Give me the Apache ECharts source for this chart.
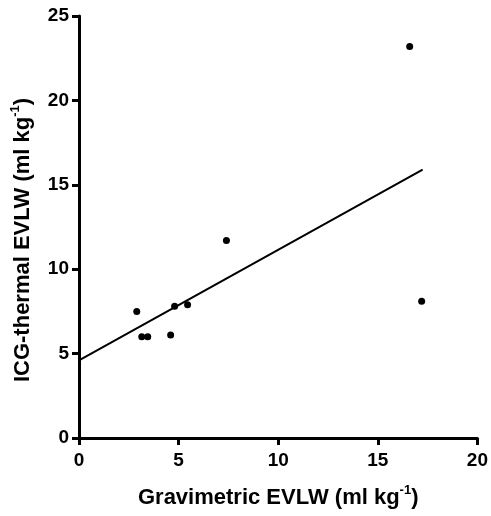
<!DOCTYPE html>
<html>
<head>
<meta charset="utf-8">
<script src="https://cdn.jsdelivr.net/npm/echarts@6/dist/echarts.min.js"></script>
<style>html,body{margin:0;padding:0;background:#fff}#c{width:491px;height:516px}</style>
</head>
<body>
<div id="c"></div>
<script>
const gravX = [2.9, 3.15, 3.45, 4.6, 4.8, 5.45, 7.4, 16.6, 17.2];
const icgY = [7.5, 6.0, 6.0, 6.1, 7.8, 7.9, 11.7, 23.2, 8.1];
const fitX = [0, 17.25];
const fitY = [4.6, 15.9];
const xTicks = [0, 5, 10, 15, 20];
const yTicks = [0, 5, 10, 15, 20, 25];

const font = '"Liberation Sans", Arial, sans-serif';
const chart = echarts.init(document.getElementById('c'));
const rich = {
  n: {color: '#000', fontWeight: 'bold', fontSize: 22, fontFamily: font},
  sup: {color: '#000', fontWeight: 'bold', fontSize: 13, fontFamily: font, padding: [0, 0, 15, 0]}
};
const axisCommon = {
  axisLine: {lineStyle: {color: '#000', width: 3}},
  axisTick: {inside: false, length: 7, lineStyle: {color: '#000', width: 3}},
  axisLabel: {color: '#000', fontWeight: 'bold', fontSize: 19, fontFamily: font},
  splitLine: {show: false},
  nameLocation: 'middle'
};
chart.setOption({
  animation: false,
  backgroundColor: '#fff',
  grid: {left: 79, right: 11, top: 16, bottom: 78},
  xAxis: Object.assign({}, axisCommon, {
    type: 'value', min: xTicks[0], max: xTicks[xTicks.length - 1], interval: 5,
    name: '{n|Gravimetric EVLW (ml kg}{sup|-1}{n|)}', nameGap: 46,
    nameTextStyle: {color: '#000', fontWeight: 'bold', fontSize: 22, fontFamily: font, rich: rich},
    axisLabel: Object.assign({}, axisCommon.axisLabel, {margin: 13})
  }),
  yAxis: Object.assign({}, axisCommon, {
    type: 'value', min: yTicks[0], max: yTicks[yTicks.length - 1], interval: 5,
    name: '{n|ICG-thermal EVLW (ml kg}{sup|-1}{n|)}', nameGap: 42,
    nameTextStyle: {color: '#000', fontWeight: 'bold', fontSize: 22, fontFamily: font, rich: rich, padding: [0, 26, 0, 0]},
    axisLabel: Object.assign({}, axisCommon.axisLabel, {margin: 10})
  }),
  series: [
    {
      type: 'scatter', data: gravX.map((x, i) => [x, icgY[i]]),
      symbol: 'circle', symbolSize: 7, itemStyle: {color: '#000', opacity: 1}
    },
    {
      type: 'line', data: fitX.map((x, i) => [x, fitY[i]]),
      showSymbol: false, lineStyle: {color: '#000', width: 2}
    }
  ]
});
</script>
</body>
</html>
